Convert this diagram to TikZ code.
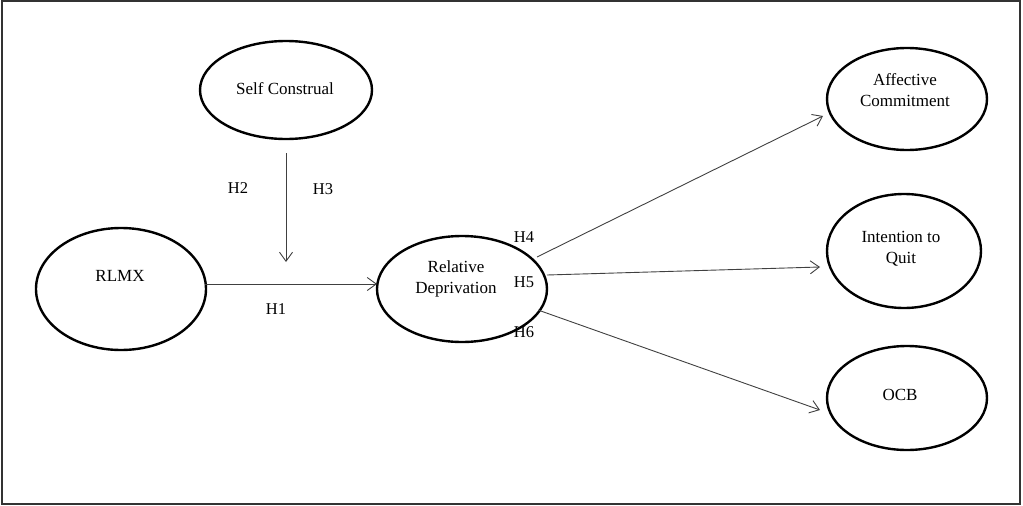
\documentclass[tikz,border=0pt]{standalone}
\usepackage{fontspec}
\setmainfont{Liberation Serif}
\usetikzlibrary{shapes.geometric,arrows.meta}
\begin{document}
\begin{tikzpicture}[x=1pt,y=-1pt,
  var/.style={draw,ellipse,line width=2.4pt,inner sep=0pt},
  vtext/.style={align=center,inner sep=0pt,font=\fontsize{17}{21}\selectfont},
  conn/.style={line width=0.9pt,draw=black!75,-{Straight Barb[length=9pt,width=13pt,line width=0.9pt]}},
  hlab/.style={font=\fontsize{16.5}{19}\selectfont,inner sep=0pt}]
\useasboundingbox (0,0) rectangle (1023,506);
\draw[line width=1.5pt,draw=black!80] (2,1) rectangle (1020,504);
\node[var,minimum width=172pt,minimum height=98pt] (sc) at (286,90) {};
\node[var,minimum width=170pt,minimum height=122pt] (rlmx) at (121,289) {};
\node[var,minimum width=170pt,minimum height=106pt] (rd) at (462,289) {};
\node[var,minimum width=160pt,minimum height=102pt] (ac) at (907,99) {};
\node[var,minimum width=154pt,minimum height=114pt] (iq) at (904,251) {};
\node[var,minimum width=160pt,minimum height=104pt] (ocb) at (907,398) {};
\node[vtext] (sct) at (285,89) {Self Construal};
\node[vtext] (rlmxt) at (120,276) {RLMX};
\node[vtext] (rdt) at (456,279) {Relative\\Deprivation};
\node[vtext] (act) at (905,90) {Affective\\Commitment};
\node[vtext] (iqt) at (901,249) {Intention to\\Quit};
\node[vtext] (ocbt) at (900,395) {OCB};
\coordinate (vtop) at (286,153);
\coordinate (vend) at (286,262);
\coordinate (h1end) at (377,284);
\coordinate (h1start) at (205,284);
\coordinate (acend) at (823,116);
\coordinate (iqend) at (820,267);
\coordinate (ocbend) at (820,410);
\coordinate (rd4) at (537,257);
\coordinate (rd5) at (547,275);
\coordinate (rd6) at (538,310);
\draw[conn] (vtop) -- (vend);
\draw[conn] (h1start) -- (h1end);
\draw[conn] (rd4) -- (acend);
\draw[conn] (rd5) -- (iqend);
\draw[conn] (rd6) -- (ocbend);
\node[hlab] (h2) at (238,188) {H2};
\node[hlab] (h3) at (323,189) {H3};
\node[hlab] (h1) at (276,309) {H1};
\node[hlab] (h4) at (524,237) {H4};
\node[hlab] (h5) at (524,282) {H5};
\node[hlab] (h6) at (524,332) {H6};
\end{tikzpicture}
\end{document}
